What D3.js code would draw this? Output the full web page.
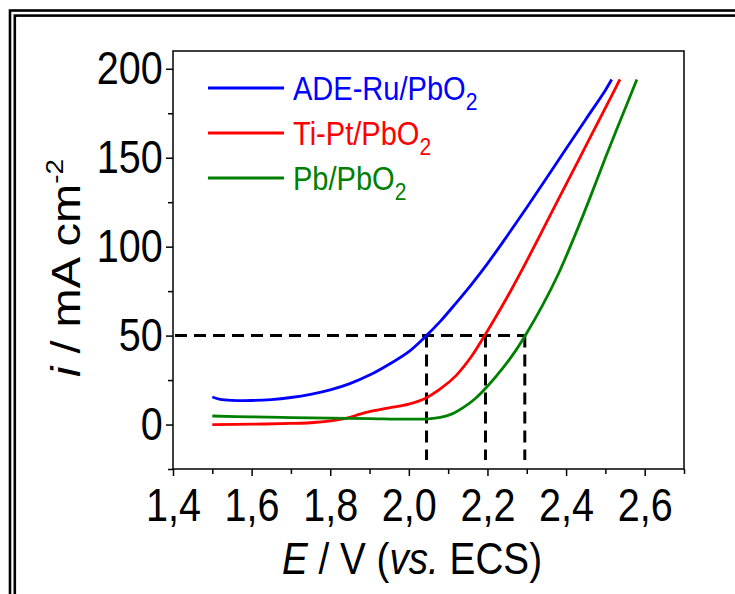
<!DOCTYPE html>
<html>
<head>
  <meta charset='utf-8'>
  <title>Polarization curves</title>
  <script src="https://cdnjs.cloudflare.com/ajax/libs/d3/7.8.5/d3.min.js"></script>
  <style>
    html, body {
      margin: 0;
      padding: 0;
      background: #fff;
    }
    svg text {
      font-family: 'Liberation Sans', Arial, sans-serif;
    }
  </style>
</head>
<body>
  <svg id="chart"></svg>
  <script>
    // data
    const seriesNames = ["ADE-Ru/PbO", "Ti-Pt/PbO", "Pb/PbO"];
    const seriesColors = ["#0000ff", "#ff0000", "#008000"];

    const eAde = [1.50, 1.52, 1.55, 1.60, 1.65, 1.70, 1.75, 1.80, 1.85, 1.90, 1.95, 2.00, 2.04, 2.08, 2.12, 2.16, 2.20, 2.25, 2.30, 2.35, 2.40, 2.45, 2.50, 2.516];
    const iAde = [15.5, 14.2, 13.6, 13.5, 14.0, 15.2, 17.0, 19.5, 23.0, 27.8, 33.9, 41.0, 49.0, 58.0, 68.3, 79.0, 90.5, 106, 122, 138.5, 155, 171.5, 188, 194];

    const eTiPt = [1.50, 1.60, 1.70, 1.75, 1.80, 1.85, 1.875, 1.90, 1.95, 2.00, 2.04, 2.08, 2.12, 2.16, 2.19, 2.22, 2.26, 2.30, 2.35, 2.40, 2.45, 2.50, 2.537];
    const iTiPt = [0, 0.2, 0.6, 1.0, 2.0, 4.0, 5.8, 7.3, 9.3, 11.5, 14.5, 20.0, 27.5, 38.5, 49.0, 60.0, 75.5, 92.0, 113.5, 135, 156.5, 178, 194];

    const ePb = [1.50, 1.60, 1.70, 1.80, 1.90, 2.00, 2.05, 2.08, 2.11, 2.14, 2.17, 2.20, 2.24, 2.27, 2.30, 2.34, 2.38, 2.42, 2.46, 2.50, 2.54, 2.58];
    const iPb = [4.8, 4.3, 3.9, 3.6, 3.3, 3.0, 3.2, 4.0, 6.0, 9.8, 14.8, 21.5, 32.0, 41.0, 51.5, 67.0, 84.5, 105, 127, 150, 172, 194];

    const xTicks = [1.4, 1.6, 1.8, 2.0, 2.2, 2.4, 2.6];
    const xMinor = [1.5, 1.7, 1.9, 2.1, 2.3, 2.5, 2.7];
    const yTicks = [0, 50, 100, 150, 200];
    const yMinor = [-25, 25, 75, 125, 175];

    // potentials at which i = 50 mA cm-2
    const markE = [2.045, 2.195, 2.295];
    const markI = 50;
    const markBottom = -20;

    const width = 735;
    const height = 594;
    const box = { left: 173, top: 51, right: 684, bottom: 469 };
    const squeeze = 0.86;

    const svg = d3.select('#chart')
      .attr('width', width)
      .attr('height', height);

    // double frame around the figure
    svg.append('rect')
      .attr('x', 10).attr('y', 10.5)
      .attr('width', 800).attr('height', 700)
      .attr('fill', 'none').attr('stroke', '#000').attr('stroke-width', 2.6);
    svg.append('rect')
      .attr('x', 14.8).attr('y', 15.6)
      .attr('width', 800).attr('height', 700)
      .attr('fill', 'none').attr('stroke', '#000').attr('stroke-width', 2.6);

    const x = d3.scaleLinear().domain([1.4, 2.7]).range([box.left, box.right]);
    const y = d3.scaleLinear().domain([-25, 210]).range([box.bottom, box.top]);

    // minor ticks first
    svg.append('g')
      .attr('transform', `translate(0,${box.bottom})`)
      .call(d3.axisBottom(x).tickValues(xMinor).tickSize(5).tickFormat(''))
      .call(g => g.select('.domain').remove())
      .selectAll('line').attr('stroke-width', 1.5);
    svg.append('g')
      .attr('transform', `translate(${box.left},0)`)
      .call(d3.axisLeft(y).tickValues(yMinor).tickSize(5).tickFormat(''))
      .call(g => g.select('.domain').remove())
      .selectAll('line').attr('stroke-width', 1.5);

    const fmt = d => d3.format('.1f')(d).replace('.', ',');

    const xAxis = svg.append('g')
      .attr('transform', `translate(0,${box.bottom})`)
      .call(d3.axisBottom(x).tickValues(xTicks).tickSize(7).tickPadding(12).tickFormat(fmt));
    xAxis.select('.domain').remove();
    xAxis.selectAll('line').attr('stroke-width', 1.5);
    xAxis.selectAll('text')
      .attr('font-size', 46)
      .attr('fill', '#000')
      .attr('transform', `scale(${squeeze},1)`);

    const yAxis = svg.append('g')
      .attr('transform', `translate(${box.left},0)`)
      .call(d3.axisLeft(y).tickValues(yTicks).tickSize(7).tickPadding(5));
    yAxis.select('.domain').remove();
    yAxis.selectAll('line').attr('stroke-width', 1.5);
    yAxis.selectAll('text')
      .attr('font-size', 46)
      .attr('fill', '#000')
      .attr('transform', `scale(${squeeze},1)`);

    // plot box
    svg.append('rect')
      .attr('x', box.left).attr('y', box.top)
      .attr('width', box.right - box.left).attr('height', box.bottom - box.top)
      .attr('fill', 'none').attr('stroke', '#000').attr('stroke-width', 1.5);

    // dashed guide lines
    const dashed = svg.append('g')
      .attr('stroke', '#000').attr('stroke-width', 3)
      .attr('stroke-dasharray', '12,7').attr('fill', 'none');
    dashed.append('line')
      .attr('x1', x(1.4) + 2).attr('x2', x(d3.max(markE)))
      .attr('y1', y(markI)).attr('y2', y(markI));
    dashed.selectAll('.v')
      .data(markE)
      .join('line')
      .attr('class', 'v')
      .attr('x1', d => x(d)).attr('x2', d => x(d))
      .attr('y1', y(markI)).attr('y2', y(markBottom));

    // curves
    const series = [
      { e: eAde, i: iAde },
      { e: eTiPt, i: iTiPt },
      { e: ePb, i: iPb }
    ];
    const line = d3.line()
      .x(d => x(d[0]))
      .y(d => y(d[1]))
      .curve(d3.curveCatmullRom.alpha(0.5));

    series.forEach((s, k) => {
      svg.append('path')
        .datum(s.e.map((v, j) => [v, s.i[j]]))
        .attr('d', line)
        .attr('fill', 'none')
        .attr('stroke', seriesColors[k])
        .attr('stroke-width', 2.8)
        .attr('stroke-linejoin', 'round');
    });

    // legend
    const legend = svg.append('g');
    seriesNames.forEach((name, k) => {
      const ly = 88 + k * 45;
      legend.append('line')
        .attr('x1', 208).attr('x2', 284)
        .attr('y1', ly).attr('y2', ly)
        .attr('stroke', seriesColors[k]).attr('stroke-width', 2.8);
      const t = legend.append('text')
        .attr('transform', `translate(293,${ly + 12}) scale(${squeeze + 0.02},1)`)
        .attr('font-size', 33)
        .attr('fill', seriesColors[k]);
      t.append('tspan').text(name);
      t.append('tspan').attr('font-size', 24).attr('dy', 10).text('2');
    });

    // axis titles
    const xt = svg.append('text')
      .attr('transform', `translate(412,574) scale(${squeeze},1)`)
      .attr('text-anchor', 'middle')
      .attr('font-size', 45);
    xt.append('tspan').attr('font-style', 'italic').text('E');
    xt.append('tspan').text(' / V (');
    xt.append('tspan').attr('font-style', 'italic').text('vs.');
    xt.append('tspan').text(' ECS)');

    const yt = svg.append('text')
      .attr('transform', `translate(80,268) scale(${squeeze},1) rotate(-90)`)
      .attr('text-anchor', 'middle')
      .attr('font-size', 47);
    yt.append('tspan').attr('font-style', 'italic').text('i');
    yt.append('tspan').text(' / mA cm');
    yt.append('tspan').attr('font-size', 28).attr('dy', -20).text('-2');
  </script>
</body>
</html>
